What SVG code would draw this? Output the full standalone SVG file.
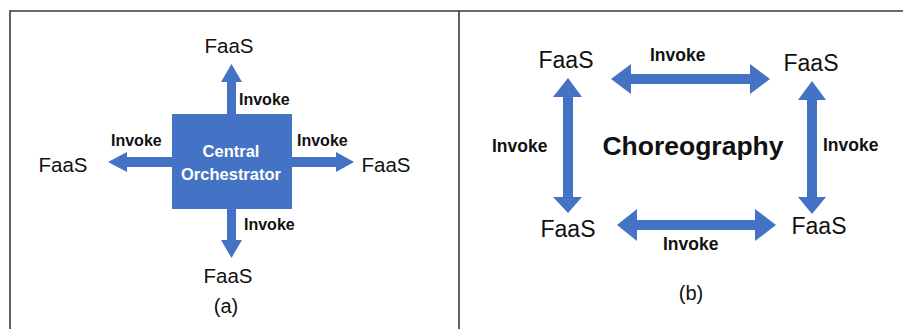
<svg xmlns="http://www.w3.org/2000/svg" width="903" height="329" viewBox="0 0 903 329">
  <style>
    .frame { fill: none; stroke: #3a3a3a; stroke-width: 1.6; }
    .arrow { fill: #4472C4; }
    .faas { font-family: "Liberation Sans", Arial, sans-serif; font-size: 20.5px; fill: #111; }
    .faas-b { font-family: "Liberation Sans", Arial, sans-serif; font-size: 23px; fill: #111; }
    .lbl { font-family: "Liberation Sans", Arial, sans-serif; font-size: 16px; font-weight: bold; fill: #111; }
    .lbl-b { font-family: "Liberation Sans", Arial, sans-serif; font-size: 17.5px; font-weight: bold; fill: #111; }
    .cap { font-family: "Liberation Sans", Arial, sans-serif; font-size: 20px; fill: #111; }
    .core { font-family: "Liberation Sans", Arial, sans-serif; font-size: 16.5px; font-weight: bold; fill: #ffffff; }
    .title { font-family: "Liberation Sans", Arial, sans-serif; font-size: 26.5px; font-weight: bold; fill: #111; }
  </style>

  <!-- panel frames -->
  <rect x="0" y="0" width="903" height="329" fill="#ffffff"/>
  <path class="frame" d="M10,329 V11 H903 M459,11 V329"/>

  <!-- (a) central orchestration -->
  <g id="orchestrator">
    <rect x="172" y="114" width="120" height="95" fill="#4472C4"/>
    <text class="core" x="231" y="157" text-anchor="middle">Central</text>
    <text class="core" x="231" y="180" text-anchor="middle">Orchestrator</text>
  </g>
  <g id="faas-a-top"><text class="faas" x="229" y="53" text-anchor="middle">FaaS</text></g>
  <g id="faas-a-left"><text class="faas" x="63" y="172" text-anchor="middle">FaaS</text></g>
  <g id="faas-a-right"><text class="faas" x="386" y="172" text-anchor="middle">FaaS</text></g>
  <g id="faas-a-bottom"><text class="faas" x="228" y="283" text-anchor="middle">FaaS</text></g>
  <text class="cap" x="226" y="313" text-anchor="middle">(a)</text>

  <!-- (b) choreography -->
  <g id="faas-b-tl"><text class="faas-b" x="566" y="68" text-anchor="middle">FaaS</text></g>
  <g id="faas-b-tr"><text class="faas-b" x="811" y="71" text-anchor="middle">FaaS</text></g>
  <g id="faas-b-bl"><text class="faas-b" x="568" y="237" text-anchor="middle">FaaS</text></g>
  <g id="faas-b-br"><text class="faas-b" x="819" y="234" text-anchor="middle">FaaS</text></g>
  <text class="title" x="693" y="155" text-anchor="middle">Choreography</text>
  <text class="cap" x="691" y="300" text-anchor="middle">(b)</text>

  <!-- connectors -->
  <g id="connectors">
    <polygon class="arrow" points="227,114 227,82 221,82 231.5,64 242,82 236,82 236,114"/>
    <polygon class="arrow" points="227,209 227,240 221,240 231.5,258 242,240 236,240 236,209"/>
    <polygon class="arrow" points="172,157 127,157 127,152 108,162 127,172 127,167 172,167"/>
    <polygon class="arrow" points="292,157 336,157 336,152 354,162 336,172 336,167 292,167"/>
    <text class="lbl" x="239" y="105">Invoke</text>
    <text class="lbl" x="111" y="146">Invoke</text>
    <text class="lbl" x="297" y="146">Invoke</text>
    <text class="lbl" x="244" y="230">Invoke</text>

    <polygon class="arrow" points="611,79 631,64 631,74 750,74 750,64 770,79 750,94 750,84 631,84 631,94"/>
    <polygon class="arrow" points="617,225 637,209 637,220 755,220 755,209 776,225 755,241 755,230 637,230 637,241"/>
    <polygon class="arrow" points="568,78 582,97 573,97 573,197 582,197 568,213 553,197 563,197 563,97 553,97"/>
    <polygon class="arrow" points="812,81 826,100 817,100 817,197 826,197 812,214 798,197 807,197 807,100 798,100"/>
    <text class="lbl-b" x="650" y="61">Invoke</text>
    <text class="lbl-b" x="492" y="152">Invoke</text>
    <text class="lbl-b" x="823" y="151">Invoke</text>
    <text class="lbl-b" x="663" y="250">Invoke</text>
  </g>
</svg>
